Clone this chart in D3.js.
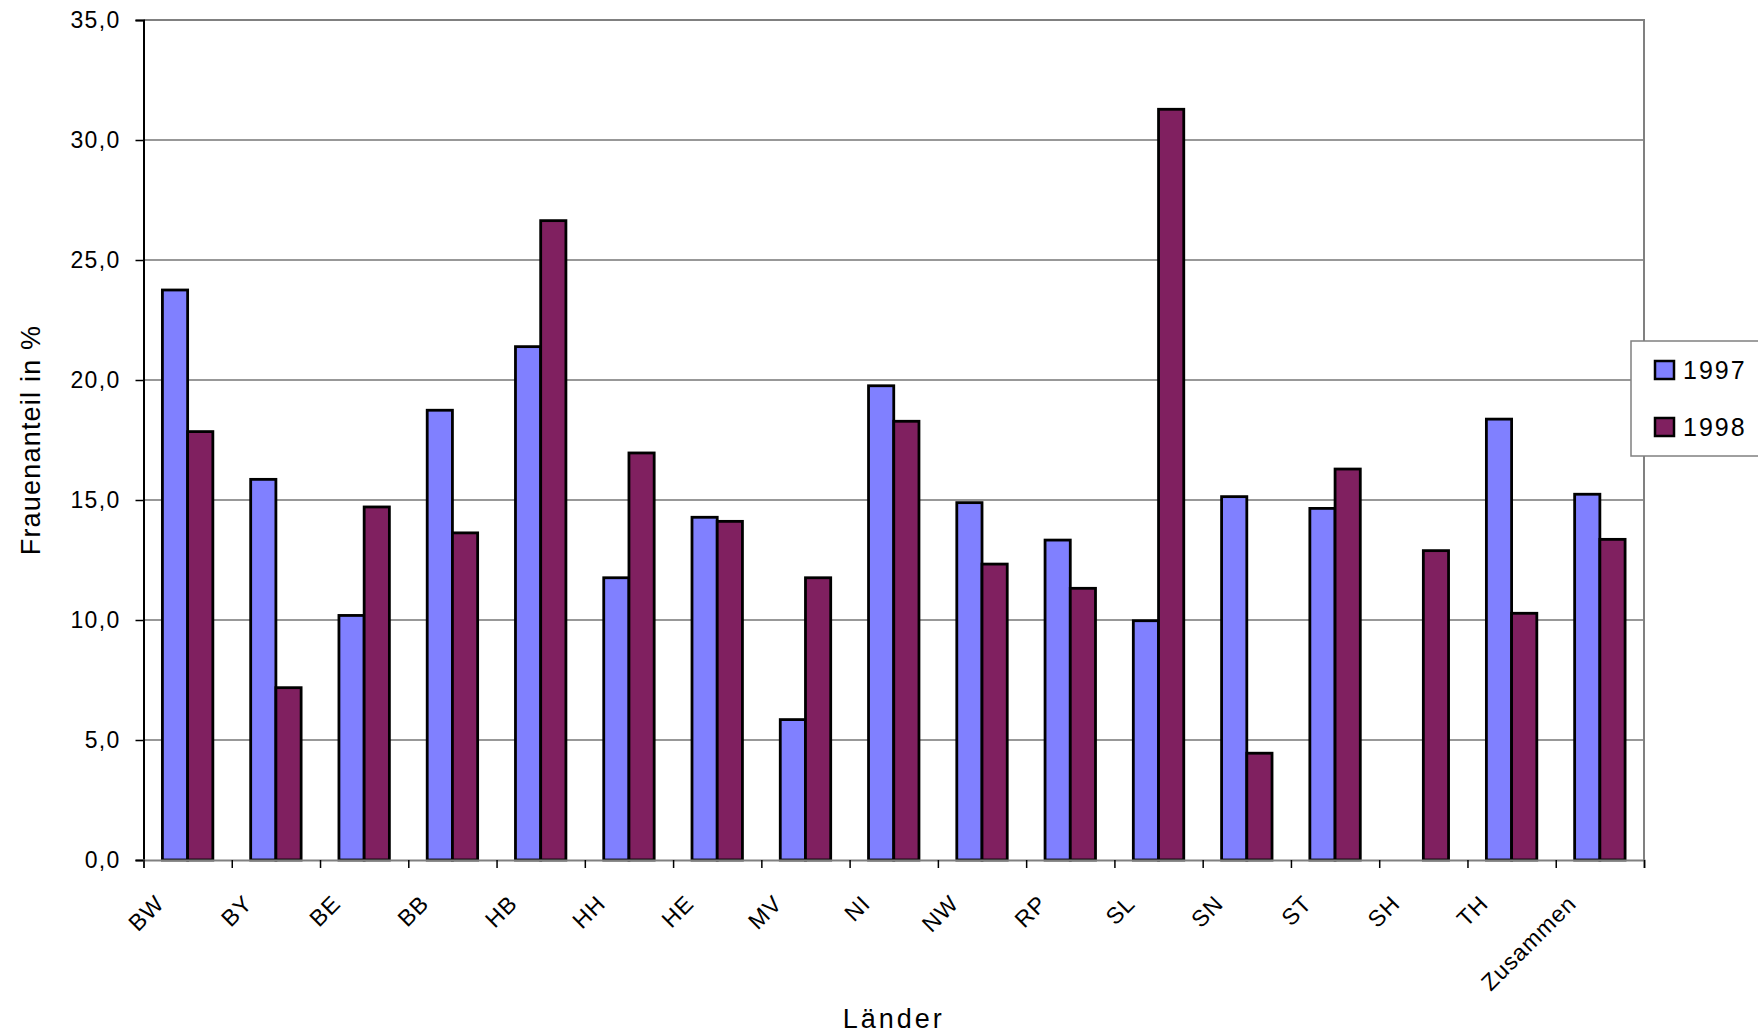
<!DOCTYPE html>
<html>
<head>
<meta charset="utf-8">
<script src="https://cdn.jsdelivr.net/npm/d3@7"></script>
<style>
  body { margin: 0; background: #fff; }
  text { font-family: "Liberation Sans", Arial, sans-serif; fill: #000; }
</style>
</head>
<body>
<div id="chart"></div>
<script>
const categories = ["BW", "BY", "BE", "BB", "HB", "HH", "HE", "MV", "NI", "NW", "RP", "SL", "SN", "ST", "SH", "TH", "Zusammen"];
const series = ["1997", "1998"];
const values1997 = [23.75, 15.86, 10.19, 18.74, 21.39, 11.76, 14.28, 5.85, 19.76, 14.89, 13.33, 9.97, 15.14, 14.65, null, 18.37, 15.24];
const values1998 = [17.85, 7.18, 14.71, 13.63, 26.64, 16.96, 14.11, 11.76, 18.28, 12.33, 11.32, 31.28, 4.45, 16.29, 12.89, 10.28, 13.36];
const yTicks = [0, 5, 10, 15, 20, 25, 30, 35];

const colors = { "1997": "#8080ff", "1998": "#802060" };

const W = 1758, H = 1035;
const plot = { left: 143.5, right: 1644, top: 20, bottom: 860 };

const svg = d3.select("#chart")
    .append("svg")
    .attr("width", W)
    .attr("height", H);

svg.append("rect").attr("width", W).attr("height", H).attr("fill", "#fff");

const x = d3.scaleBand()
    .domain(categories)
    .range([plot.left, plot.right]);

// Excel gap width 150%: each bar is band / 3.5
const xInner = d3.scaleBand()
    .domain(series)
    .range([0, x.bandwidth()])
    .paddingInner(0)
    .paddingOuter(0.75);

// category boundaries for the tick marks
const xEdge = d3.scaleLinear()
    .domain([0, categories.length])
    .range([plot.left, plot.right]);

const y = d3.scaleLinear()
    .domain([0, 35])
    .range([plot.bottom, plot.top]);

const deFormat = d3.formatLocale({ decimal: ",", thousands: ".", grouping: [3], currency: ["", " €"] }).format(".1f");

// gridlines
svg.append("g")
    .selectAll("line")
    .data(yTicks.filter(d => d > 0 && d < 35))
    .enter()
    .append("line")
    .attr("x1", plot.left)
    .attr("x2", plot.right)
    .attr("y1", d => y(d))
    .attr("y2", d => y(d))
    .attr("stroke", "#333")
    .attr("stroke-width", 1.2);

// plot area border (top / right)
svg.append("path")
    .attr("d", `M${plot.left},${plot.top}H${plot.right}V${plot.bottom}`)
    .attr("fill", "none")
    .attr("stroke", "#808080")
    .attr("stroke-width", 2);

// bars
const rows = categories.map((c, i) => ({ cat: c, vals: [
    { s: "1997", v: values1997[i] },
    { s: "1998", v: values1998[i] }
] }));

const groups = svg.append("g")
    .selectAll("g")
    .data(rows)
    .enter()
    .append("g")
    .attr("transform", d => `translate(${x(d.cat)},0)`);

groups.selectAll("rect")
    .data(d => d.vals.filter(e => e.v != null))
    .enter()
    .append("rect")
    .attr("x", d => xInner(d.s))
    .attr("width", xInner.bandwidth())
    .attr("y", d => y(d.v))
    .attr("height", d => y(0) - y(d.v))
    .attr("fill", d => colors[d.s])
    .attr("stroke", "#000")
    .attr("stroke-width", 2.8);

// y axis
const yAxis = svg.append("g")
    .attr("transform", `translate(${plot.left},0)`)
    .call(d3.axisLeft(y).tickValues(yTicks).tickSize(8).tickPadding(15).tickFormat(deFormat));
yAxis.select(".domain").attr("stroke", "#000").attr("stroke-width", 2);
yAxis.selectAll(".tick line").attr("stroke", "#000").attr("stroke-width", 1.5);
yAxis.selectAll("text")
    .attr("font-size", 23)
    .attr("letter-spacing", 1.3)
    .attr("font-family", null);

// x axis ticks on category boundaries
const xAxis = svg.append("g")
    .attr("transform", `translate(0,${plot.bottom})`)
    .call(d3.axisBottom(xEdge).tickValues(d3.range(categories.length + 1)).tickSize(8).tickFormat(""));
xAxis.select(".domain").attr("stroke", "#808080").attr("stroke-width", 2);
xAxis.selectAll(".tick line").attr("stroke", "#000").attr("stroke-width", 1.5);

// rotated category labels
svg.append("g")
    .selectAll("text")
    .data(categories)
    .enter()
    .append("text")
    .attr("text-anchor", "end")
    .attr("font-size", 23)
    .attr("letter-spacing", 1)
    .attr("transform", d => `translate(${x(d) + x.bandwidth() / 2 - 22},${plot.bottom + 45}) rotate(-45)`)
    .text(d => d);

// axis titles
svg.append("text")
    .attr("x", (plot.left + plot.right) / 2)
    .attr("y", 1028)
    .attr("text-anchor", "middle")
    .attr("font-size", 27)
    .attr("letter-spacing", 3)
    .text("Länder");

svg.append("text")
    .attr("transform", `translate(40,${(plot.top + plot.bottom) / 2}) rotate(-90)`)
    .attr("text-anchor", "middle")
    .attr("font-size", 27)
    .attr("letter-spacing", 1.2)
    .text("Frauenanteil in %");

// legend
const legend = svg.append("g");
legend.append("rect")
    .attr("x", 1631)
    .attr("y", 341)
    .attr("width", 160)
    .attr("height", 115)
    .attr("fill", "#fff")
    .attr("stroke", "#808080")
    .attr("stroke-width", 1.5);

const items = legend.selectAll("g.item")
    .data(series)
    .enter()
    .append("g")
    .attr("class", "item")
    .attr("transform", (d, i) => `translate(1655,${361 + i * 57})`);

items.append("rect")
    .attr("width", 19)
    .attr("height", 18)
    .attr("fill", d => colors[d])
    .attr("stroke", "#000")
    .attr("stroke-width", 2.5);

items.append("text")
    .attr("x", 28)
    .attr("y", 18)
    .attr("font-size", 25)
    .attr("letter-spacing", 2)
    .text(d => d);
</script>
</body>
</html>
